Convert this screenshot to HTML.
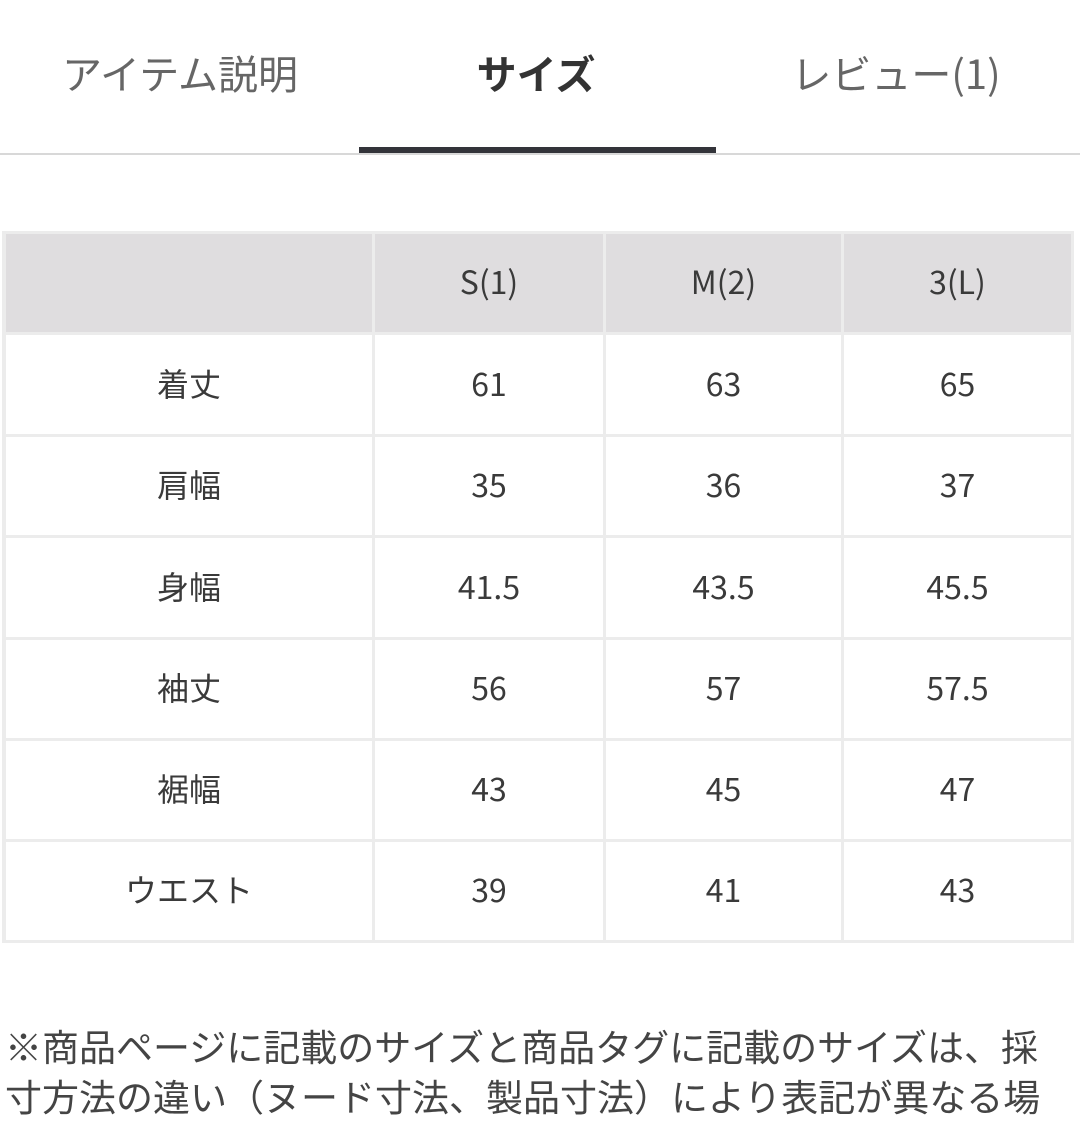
<!DOCTYPE html>
<html><head><meta charset="utf-8"><style>
body{margin:0;width:1080px;height:1080px;overflow:hidden;background:#fff;font-family:"Liberation Sans","Noto Sans CJK JP",sans-serif;position:relative}
.t{position:absolute;top:47px;font-size:40px;color:#666;text-align:center;line-height:50px;font-family:'Noto Sans CJK JP',sans-serif}
.c{position:absolute;display:flex;align-items:center;justify-content:center;font-size:32px;color:#3a3a3a;font-family:"Noto Sans CJK JP",sans-serif;box-sizing:border-box;padding-bottom:4px}
</style></head><body>
<div class="t" style="left:30px;width:300px">アイテム説明</div>
<div class="t" style="left:386px;width:300px;font-weight:bold;color:#333">サイズ</div>
<div class="t" style="left:746px;width:300px">レビュー(1)</div>
<div style="position:absolute;left:0;top:153px;width:1080px;height:2px;background:#d8d8d8"></div>
<div style="position:absolute;left:359px;top:147px;width:357px;height:6px;background:#33343a"></div>
<div style="position:absolute;left:2px;top:231px;width:1072px;height:712px;background:#ececec"></div>
<div id="g"></div>
<div style="position:absolute;left:5px;top:1020px;font-size:37px;color:#444;white-space:nowrap;font-family:'Noto Sans CJK JP',sans-serif;line-height:50px">※商品ページに記載のサイズと商品タグに記載のサイズは、採<br>寸方法の違い（ヌード寸法、製品寸法）により表記が異なる場</div>
<script>
var rows=[232,333,435,536,638,739,840,941],cols=[4,373,604,842,1072];
var d=[["","S(1)","M(2)","3(L)"],["着丈","61","63","65"],["肩幅","35","36","37"],["身幅","41.5","43.5","45.5"],["袖丈","56","57","57.5"],["裾幅","43","45","47"],["ウエスト","39","41","43"]];
var h="";
for(var r=0;r<7;r++)for(var c=0;c<4;c++){
var x=cols[c]+2,y=rows[r]+2,w=cols[c+1]-cols[c]-3,hh=rows[r+1]-rows[r]-3;
h+='<div class="c" style="left:'+x+'px;top:'+y+'px;width:'+w+'px;height:'+hh+'px;background:'+(r==0?'#dfdddf':'#fff')+'">'+d[r][c]+'</div>';}
document.getElementById("g").innerHTML=h;
</script>
</body></html>
